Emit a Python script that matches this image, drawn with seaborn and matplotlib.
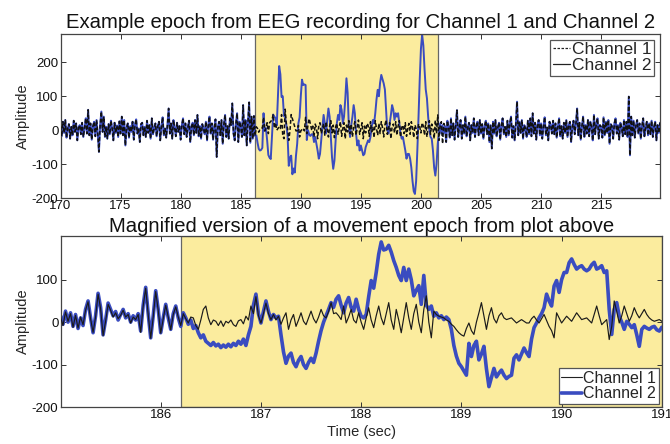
import numpy as np
import pandas as pd
import matplotlib
matplotlib.use("Agg")
import matplotlib.pyplot as plt
import seaborn as sns
from matplotlib.lines import Line2D

# ---------------- data ----------------
top_start = 170.0
top_step = 0.1
# Channel 1, top panel, 170.0 .. 219.9 s (one row = 1 s)
top_ch1 = [
    12, -18, 25, -8, 30, -22, 5, 18, -25, 10,
    -15, 28, -5, 20, -30, 8, 15, -12, 22, -20,
    6, 35, -10, 60, -15, 20, -28, 12, 25, -18,
    30, -10, -64, 15, 55, -5, 40, -20, 10, -25,
    18, -12, 28, 5, -30, 22, -8, 14, -20, 26,
    -10, 40, -15, 30, -45, 8, 20, -22, 12, -5,
    25, -28, 15, 32, -10, 5, -35, 18, 22, -15,
    10, -20, 28, -8, 15, -25, 35, -12, 6, 20,
    -18, 12, 25, -30, 10, 38, -15, 5, -22, 15,
    64, -10, 20, -25, 30, 8, -18, 22, -5, 12,
    -28, 15, 35, -12, 20, -20, 8, 28, -35, 10,
    22, -15, 30, -8, 45, -18, 12, -25, 18, 5,
    -12, 25, -30, 15, 40, -10, 20, -28, 8, 32,
    -79, 10, 25, -15, 30, -40, 18, 45, -20, 12,
    -25, 35, 15, 79, -10, -30, 20, 50, -35, 25,
    10, -20, 74, -15, 30, -45, 22, 82, -37, 40,
    -25, 42, -17, 10, 5, -6, 3, 5, 6, 38,
    -2, 6, 22, -10, 22, 26, 30, 46, 6, 22,
    0, 5, 10, 5, 46, -17, -25, 62, 18, 5,
    -30, -2, 46, 34, 22, 10, -2, -2, 14, -20,
    -2, 2, 6, -2, 38, -10, 15, 34, 18, 2,
    12, -20, 18, 8, -25, 15, 22, -10, 5, 20,
    -15, 25, 5, -20, 12, 28, -8, 15, -22, 10,
    20, -12, 8, 25, -18, 5, 22, -25, 15, -5,
    28, -10, 18, -20, 10, 25, -15, 8, 30, -12,
    5, 22, -25, 12, -8, 20, 15, -18, 25, -5,
    10, -22, 28, 5, -15, 20, -10, 25, 8, -20,
    15, 30, -12, 5, 22, -25, 10, 18, -8, 25,
    -15, 12, 28, -20, 8, 15, -10, 22, -18, 5,
    20, -12, 25, 8, -22, 15, 5, -25, 18, 10,
    -8, 22, 12, -15, 25, -20, 10, 28, -12, 18,
    5, -25, 30, -10, 45, -30, 15, 25, -40, 20,
    12, -35, 28, 10, -22, 35, -15, 20, -28, 15,
    59, -20, 10, 30, -25, 15, -10, 40, -18, 8,
    22, -30, 15, -8, 35, -20, 12, 25, -15, 30,
    -10, 18, -25, 12, 28, -12, 20, -35, 15, -54,
    25, -10, 30, -18, 8, 22, -28, 15, 35, -12,
    10, -20, 28, -15, 20, 40, -22, 12, -30, 18,
    84, -15, 25, -8, 30, -25, 15, 5, -20, 28,
    -12, 35, -18, 50, -10, 22, -28, 15, 30, -15,
    20, -25, 12, 38, -15, 8, -30, 25, 15, -10,
    28, -12, 20, -22, 10, 35, -18, 12, -25, 22,
    -8, 30, -20, 15, 25, -35, 10, 28, -12, 18,
    64, -15, 22, -28, 12, 40, -20, 15, -10, 30,
    -18, 25, 10, -30, 45, -12, 20, 35, -25, 15,
    10, -22, 38, -15, 25, -8, 30, -40, 18, 12,
    -25, 20, 35, -10, 15, -28, 22, 8, -18, 30,
    -12, 25, -20, 99, -74, 40, -15, 28, -22, 15,
    30, -10, 20, -25, 12, 35, -18, 8, 25, -15,
    20, -12, 28, -20, 10, 25, -30, 15, -8, 22,
]
# Channel 2 during the movement, 186.0 .. 201.9 s (same as Channel 1 elsewhere)
move_start = 186.0
top_ch2_move = [
    -25, 42, -17, -15, -37, -55, -60, -58, -52, 50,
    -2, 6, -30, -73, -81, -85, -20, 46, 40, 35,
    14, 98, 189, 165, 98, 100, 42, 38, 15, -17,
    -105, -81, -75, -130, -113, -125, -75, -40, 20, 38,
    100, 149, 133, 135, 133, -29, 0, -13, -17, -12,
    -12, -35, -20, -40, -60, -84, -70, -30, 10, 45,
    20, -10, 30, 64, 40, -20, -80, -114, -90, -30,
    20, 45, 30, 74, 60, 20, 40, 90, 153, 110,
    10, -20, 15, 40, 74, 50, -10, -45, -30, -60,
    -45, -60, -74, -70, -50, -40, -30, -35, -20, 10,
    30, 20, 50, 90, 119, 100, 140, 163, 150, 138,
    120, 60, 0, -10, 20, 45, 74, 60, 30, 50,
    40, 50, 20, -10, -25, -20, -40, -60, -84, -70,
    -70, -84, -110, -150, -180, -188, -150, -60, 40, 150,
    240, 282, 250, 180, 120, 94, 40, 0, -20, -25,
    -60, -110, -134, -100, -40, -5, 20, -10, 15, -8,
]

# bottom (magnified) panel, 185.000 .. 191.000 s
bot_start = 185.0
bot_step = 0.025
bot_ch1 = [
    12, -8, 24, 2, 20, -12, 16, -14, 12, -6, 28, 48, 8, -24, 12, 66, 32, -32, 2, 42,
    28, 12, 22, 8, 16, 28, 12, 18, -2, 12, 6, 18, -24, 38, 80, 18, -38, 12, 72, 28,
    -26, 8, 40, 12, -18, 18, 36, 12, -8, 20, 8, -2, 12, 10, -8, -17, 5, 30, 38, 10,
    -6, 5, 2, -8, 3, -10, 2, -2, 5, -6, -10, 3, 6, -4, 14, 5, 38, 20, 60, 15,
    -2, 20, 45, 20, 6, 18, 5, 14, -5, 10, 22, -17, 5, 18, -10, 5, 22, 2, -6, 10,
    26, 8, -2, 12, 30, 15, 10, 25, 46, 20, 22, 15, 6, 38, -2, 12, 30, 5, -2, 22,
    0, -17, 10, 34, 5, -13, 15, 38, 10, -6, 20, 46, 5, -17, 30, 5, -25, 10, 46, 10,
    -17, 20, 42, 0, -25, 30, 62, 0, -37, 26, 18, 14, 12, 10, 5, 2, -5, -10, -18, -25,
    -30, -33, -15, -2, -20, -29, 0, 22, 46, 15, -17, 15, 34, 8, -2, 15, 22, 10, 6, 8,
    10, 4, -2, 2, 6, 2, -2, -2, 8, 14, 5, -2, 8, 18, 4, -10, -20, -37, 22, 10,
    -2, 6, 14, 8, 2, 12, 22, 14, 6, 8, 10, 4, -2, 18, 38, 15, -6, 0, 6, -41,
    -10, 50, 25, -2, 15, 38, 20, 2, 15, 34, 20, 10, 20, 30, 18, 10, 5, 2, 4, 6, 2,
]
bot_ch2 = [
    15, -5, 26, 0, 22, -10, 18, -15, 10, -8, 30, 50, 10, -25, 15, 68, 35, -30, 5, 45,
    30, 15, 25, 5, 18, 30, 10, 20, 0, 15, 5, 20, -21, 40, 82, 20, -37, 15, 74, 30,
    -25, 10, 42, 10, -17, 20, 38, 10, -10, 22, 10, -5, 5, -15, -8, -25, -37, -30, -45, -50,
    -55, -48, -56, -52, -60, -54, -59, -52, -58, -50, -55, -45, -52, -40, -55, -30, -10, 40, 66, 20,
    -2, 25, 50, 25, 6, 18, 10, 14, -30, -70, -97, -80, -73, -95, -105, -90, -81, -100, -109, -95,
    -85, -95, -73, -45, -20, 0, 15, 30, 46, 35, 54, 62, 40, 22, 45, 58, 35, 26, 54, 30,
    14, 10, 18, 60, 98, 80, 117, 160, 189, 170, 172, 181, 165, 145, 129, 110, 98, 129, 98, 125,
    100, 62, 75, 86, 42, 110, 40, 30, 38, 14, 22, 10, 15, 6, 12, 6, -17, -55, -80, -97,
    -105, -115, -125, -50, -81, -55, -45, -89, -75, -57, -110, -152, -130, -109, -129, -120, -113, -125, -133, -128,
    -125, -85, -77, -89, -75, -61, -72, -81, -40, -13, -2, 10, 20, 34, 66, 50, 38, 85, 98, 70,
    100, 117, 117, 140, 149, 136, 125, 130, 133, 125, 121, 125, 135, 141, 125, 128, 133, 117, 121, 30,
    -29, 30, 46, 14, 0, -17, 2, -5, -13, -6, -30, -57, -17, -10, -14, -17, -12, -10, -18, -21, -12,
]

epoch_top = (186.2, 201.4)
epoch_bot = (186.2, 191.0)
top_xticks = [170, 175, 180, 185, 190, 195, 200, 205, 210, 215]
top_yticks = [-200, -100, 0, 100, 200]
bot_xticks = [186, 187, 188, 189, 190, 191]
bot_yticks = [-200, -100, 0, 100]
labels = ["Channel 1", "Channel 2"]

# ---------------- build tables ----------------
t_top = top_start + top_step * np.arange(len(top_ch1))
ch2_full = np.array(top_ch1, dtype=float)
i0 = int(round((move_start - top_start) / top_step))
ch2_full[i0:i0 + len(top_ch2_move)] = top_ch2_move
df_top = pd.DataFrame({"t": t_top, "ch1": top_ch1, "ch2": ch2_full})
t_bot = bot_start + bot_step * np.arange(len(bot_ch1))
df_bot = pd.DataFrame({"t": t_bot, "ch1": bot_ch1, "ch2": bot_ch2})

# ---------------- style ----------------
sns.set_theme(style="ticks")
plt.rcParams['font.family'] = ['Liberation Sans', 'DejaVu Sans']
plt.rcParams.update({
    'axes.unicode_minus': False,
    'xtick.direction': 'in', 'ytick.direction': 'in',
    'xtick.top': True, 'ytick.right': True,
    'xtick.major.size': 3.5, 'ytick.major.size': 3.5,
    'xtick.major.width': 0.7, 'ytick.major.width': 0.7,
    'xtick.color': '#333333', 'ytick.color': '#333333',
    'xtick.labelcolor': '#111111', 'ytick.labelcolor': '#111111',
    'xtick.labelsize': 9.5, 'ytick.labelsize': 9.5,
    'axes.edgecolor': '#444444', 'axes.linewidth': 0.9,
})

BLUE = "#3a4cc0"
YELLOW = "#fbec9e"

fig = plt.figure(figsize=(6.7, 4.44), dpi=100)
ax1 = fig.add_axes([0.0903, 0.554, 0.8948, 0.3705])
ax2 = fig.add_axes([0.0903, 0.0833, 0.8975, 0.3852])

# ---- top panel ----
ax1.axvspan(*epoch_top, facecolor=YELLOW, edgecolor="#666666", linewidth=0.9, zorder=0)
sns.lineplot(data=df_top, x="t", y="ch2", ax=ax1, color=BLUE, linewidth=1.4,
             estimator=None, sort=False, zorder=2)
sns.lineplot(data=df_top, x="t", y="ch1", ax=ax1, color="#111111", linewidth=1.1,
             linestyle=(0, (2.5, 1.5)), estimator=None, sort=False, zorder=3)
ax1.set_xlim(170, 219.9)
ax1.set_ylim(-200, 285)
ax1.set_xticks(top_xticks)
ax1.set_yticks(top_yticks)
ax1.set_xlabel("")
ax1.set_ylabel("Amplitude", fontsize=10.5, labelpad=1)
ax1.tick_params(pad=1.5)
ax1.set_title("Example epoch from EEG recording for Channel 1 and Channel 2",
              fontsize=14.6, pad=4, color="#111111")
h_top = [Line2D([], [], color="#222222", lw=0.9, linestyle=(0, (2, 1.2))),
         Line2D([], [], color="#222222", lw=0.9)]
leg1 = ax1.legend(h_top, labels, loc="upper right", fontsize=12.5, frameon=True,
                  fancybox=False, edgecolor="#555555", framealpha=1,
                  handlelength=1.0, handletextpad=0.1, borderpad=0.15,
                  labelspacing=0.05, borderaxespad=0.35)
leg1.get_frame().set_linewidth(0.9)

# ---- bottom panel ----
ax2.axvspan(*epoch_bot, facecolor=YELLOW, edgecolor="#666666", linewidth=0.9, zorder=0)
sns.lineplot(data=df_bot, x="t", y="ch2", ax=ax2, color=BLUE, linewidth=2.6,
             estimator=None, sort=False, zorder=2)
sns.lineplot(data=df_bot, x="t", y="ch1", ax=ax2, color="#1a1a1a", linewidth=0.85,
             estimator=None, sort=False, zorder=3)
ax2.set_xlim(185, 191)
ax2.set_ylim(-200, 203)
ax2.set_xticks(bot_xticks)
ax2.set_yticks(bot_yticks)
ax2.set_xlabel("Time (sec)", fontsize=10.5, labelpad=3)
ax2.set_ylabel("Amplitude", fontsize=10.5, labelpad=1)
ax2.tick_params(pad=1.5)
ax2.set_title("Magnified version of a movement epoch from plot above",
              fontsize=14.6, pad=3, color="#111111")
h_bot = [Line2D([], [], color="#222222", lw=0.8),
         Line2D([], [], color=BLUE, lw=2.6)]
leg2 = ax2.legend(h_bot, labels, loc="lower right", fontsize=11.5, frameon=True,
                  fancybox=False, edgecolor="#555555", framealpha=1,
                  handlelength=1.3, handletextpad=0.1, borderpad=0.15,
                  labelspacing=0.05, borderaxespad=0.2)
leg2.get_frame().set_linewidth(0.9)

fig.savefig("out.png", dpi=100)
